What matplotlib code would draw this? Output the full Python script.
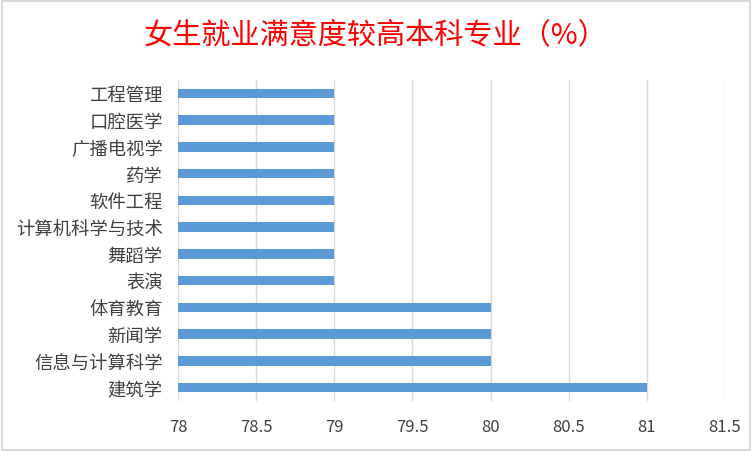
import matplotlib.pyplot as plt
from matplotlib.patches import Rectangle

plt.rcParams['font.family'] = ['Noto Sans CJK SC', 'DejaVu Sans']

majors = ["建筑学", "信息与计算科学", "新闻学", "体育教育", "表演", "舞蹈学",
          "计算机科学与技术", "软件工程", "药学", "广播电视学", "口腔医学", "工程管理"]
values = [81, 80, 80, 80, 79, 79, 79, 79, 79, 79, 79, 79]
xticks = [78, 78.5, 79, 79.5, 80, 80.5, 81, 81.5]
xtick_labels = ["78", "78.5", "79", "79.5", "80", "80.5", "81", "81.5"]
title = "女生就业满意度较高本科专业（%）"

fig = plt.figure(figsize=(7.52, 4.52), dpi=100)
ax = fig.add_axes([178 / 752, 1 - 402 / 452, (725 - 178) / 752, (402 - 81) / 452])

ax.barh(range(len(majors)), [v - 78 for v in values], left=78, height=0.36,
        color="#5b9bd5", zorder=3)
ax.set_xlim(78, 81.5)
ax.set_ylim(-0.5, len(majors) - 0.5)
ax.set_yticks(range(len(majors)))
ax.set_yticklabels(majors, fontsize=13.2, color="#404040")
ax.set_xticks(xticks)
ax.set_xticklabels(xtick_labels, fontsize=12, color="#404040")
ax.tick_params(axis="both", length=0)
ax.tick_params(axis="y", pad=11)
ax.tick_params(axis="x", pad=12)
ax.grid(axis="x", color="#d9d9d9", linewidth=1, zorder=0)
for s in ax.spines.values():
    s.set_visible(False)

fig.text(0.5, 1 - 35 / 452, title, ha="center", va="center",
         fontsize=21, color="#ff0000")

fig.patches.append(Rectangle((0.002, 0.003), 0.995, 0.993, transform=fig.transFigure,
                             fill=False, edgecolor="#d9d9d9", linewidth=1.5))

fig.savefig("out.png", dpi=100)
